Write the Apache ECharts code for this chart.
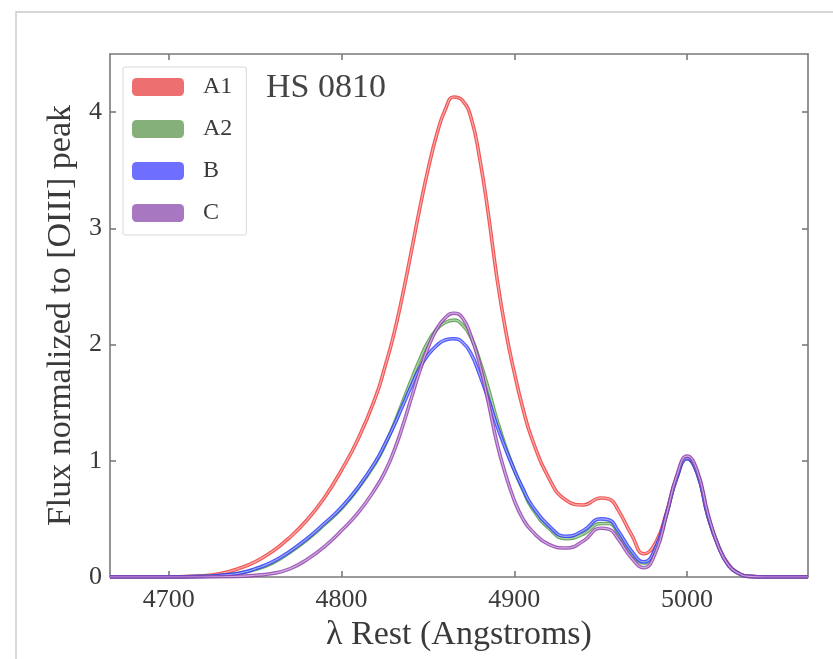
<!DOCTYPE html>
<html>
<head>
<meta charset="utf-8">
<script src="https://cdn.jsdelivr.net/npm/echarts@6/dist/echarts.min.js"></script>
<style>
  html, body { margin: 0; padding: 0; background: #fff; }
  #chart { width: 833px; height: 659px; }
</style>
</head>
<body>
<div id="chart"></div>
<script>
// Rest-frame wavelengths (Angstroms) shared by every image's profile
const wavelength = [4666, 4700, 4720, 4730, 4740, 4750, 4760, 4770, 4780, 4790, 4800, 4810,
  4820, 4825, 4830, 4835, 4840, 4845, 4850, 4855, 4860, 4865,
  4870, 4875, 4880, 4885, 4890, 4895, 4900, 4905, 4910,
  4920, 4930, 4940, 4950, 4955, 4960, 4968, 4975, 4982, 4988,
  4994, 5000, 5006, 5012, 5018, 5024, 5030, 5036, 5045, 5070];

// Flux normalised to the [OIII] peak, one array per lensed image
const fluxA1 = [0, 0, 0.01, 0.03, 0.07, 0.13, 0.22, 0.34, 0.49, 0.68, 0.92, 1.2,
  1.56, 1.8, 2.07, 2.4, 2.77, 3.15, 3.5, 3.8, 4.02, 4.13,
  4.1, 3.95, 3.6, 3.12, 2.57, 2.12, 1.76, 1.45, 1.2,
  0.85, 0.66, 0.62, 0.68, 0.67, 0.58, 0.36, 0.2, 0.3, 0.55,
  0.86, 1.02, 0.89, 0.53, 0.27, 0.11, 0.03, 0.005, 0, 0];
const fluxA2 = [0, 0, 0.005, 0.012, 0.03, 0.065, 0.12, 0.21, 0.32, 0.45, 0.59, 0.77,
  0.99, 1.13, 1.3, 1.49, 1.68, 1.86, 2.02, 2.13, 2.19, 2.21,
  2.17, 2.06, 1.86, 1.62, 1.35, 1.12, 0.92, 0.75, 0.6,
  0.42, 0.33, 0.37, 0.46, 0.46, 0.38, 0.2, 0.12, 0.25, 0.53,
  0.85, 1.02, 0.89, 0.53, 0.27, 0.1, 0.03, 0.005, 0, 0];
const fluxB = [0, 0, 0.005, 0.015, 0.03, 0.07, 0.13, 0.22, 0.33, 0.46, 0.6, 0.78,
  1.0, 1.14, 1.29, 1.46, 1.63, 1.79, 1.91, 1.99, 2.04, 2.05,
  2.02, 1.92, 1.74, 1.53, 1.3, 1.1, 0.92, 0.76, 0.62,
  0.44, 0.35, 0.4, 0.5, 0.49, 0.4, 0.22, 0.13, 0.26, 0.54,
  0.85, 1.02, 0.89, 0.53, 0.27, 0.1, 0.03, 0.005, 0, 0];
const fluxC = [0, 0, 0, 0.002, 0.005, 0.015, 0.03, 0.07, 0.15, 0.26, 0.4, 0.56,
  0.77, 0.9, 1.07, 1.28, 1.52, 1.76, 1.97, 2.13, 2.23, 2.27,
  2.23, 2.07, 1.83, 1.5, 1.15, 0.88, 0.66, 0.5, 0.4,
  0.28, 0.25, 0.31, 0.42, 0.41, 0.33, 0.16, 0.08, 0.22, 0.53,
  0.87, 1.04, 0.91, 0.55, 0.27, 0.1, 0.03, 0.005, 0, 0];

const seriesNames = ['A1', 'A2', 'B', 'C'];
const xTicks = [4700, 4800, 4900, 5000];
const yTicks = [0, 1, 2, 3, 4];

const profiles = [fluxA1, fluxA2, fluxB, fluxC];
const edgeColors = ['#ee3b3b', '#4f9a45', '#2f3cff', '#8f3fae'];
const patchColors = ['#ee6f70', '#86b07a', '#6e6eff', '#a877c2'];

const serif = 'Liberation Serif';
const frame = { color: '#7a7a7a', width: 1.6 };
const textColor = '#3a3a3a';

const series = [];
profiles.forEach((vals, k) => {
  const pts = wavelength.map((w, i) => [w, vals[i]]);
  // coloured band
  series.push({
    name: seriesNames[k],
    type: 'line',
    data: pts,
    smooth: 0.5,
    showSymbol: false,
    silent: true,
    z: 2 + k * 2,
    itemStyle: { color: patchColors[k] },
    lineStyle: { color: edgeColors[k], width: 3.6, opacity: 0.85 }
  });
  // pale core giving the band its double-edged look
  series.push({
    name: seriesNames[k] + '-core',
    type: 'line',
    data: pts,
    smooth: 0.5,
    showSymbol: false,
    silent: true,
    z: 3 + k * 2,
    lineStyle: { color: '#ffffff', width: 1.2, opacity: 0.5 }
  });
});

const plainNumber = v => String(v);

const chart = echarts.init(document.getElementById('chart'));
chart.setOption({
  animation: false,
  backgroundColor: '#ffffff',
  textStyle: { fontFamily: serif },
  grid: { left: 110, top: 54, width: 698, height: 523, containLabel: false },
  legend: {
    orient: 'vertical',
    left: 123,
    top: 67,
    padding: [8, 14, 10, 9],
    itemWidth: 52,
    itemHeight: 18,
    itemGap: 18,
    icon: 'roundRect',
    borderColor: '#d8d8d8',
    borderWidth: 1,
    borderRadius: 2,
    data: seriesNames.map((n, k) => ({ name: n, itemStyle: { color: patchColors[k] } })),
    textStyle: { fontFamily: serif, fontSize: 24, color: textColor, lineHeight: 18, padding: [0, 0, 0, 14] }
  },
  graphic: [
    {
      type: 'polyline',
      silent: true,
      shape: { points: [[16, 659], [16, 12], [833, 12]] },
      style: { fill: 'none', stroke: '#c9c9c9', lineWidth: 1.4 }
    },
    {
      type: 'text',
      left: 266, top: 71, silent: true,
      style: { text: 'HS 0810', fontFamily: serif, fontSize: 34, fill: '#444' }
    }
  ],
  xAxis: [
    {
      type: 'value', min: 4666, max: 5070,
      name: 'λ Rest (Angstroms)',
      nameLocation: 'middle', nameGap: 36,
      nameTextStyle: { fontFamily: serif, fontSize: 34, color: textColor },
      axisLine: { show: true, onZero: false, lineStyle: frame },
      axisTick: { show: true, inside: true, length: 6, customValues: xTicks, lineStyle: frame },
      axisLabel: { customValues: xTicks, formatter: plainNumber, fontFamily: serif, fontSize: 26, color: textColor, margin: 10 },
      splitLine: { show: false }
    },
    {
      type: 'value', min: 4666, max: 5070, position: 'top',
      axisLine: { show: true, onZero: false, lineStyle: frame },
      axisTick: { show: true, inside: true, length: 6, customValues: xTicks, lineStyle: frame },
      axisLabel: { show: false },
      splitLine: { show: false }
    }
  ],
  yAxis: [
    {
      type: 'value', min: 0, max: 4.5,
      name: 'Flux normalized to [OIII] peak',
      nameLocation: 'middle', nameGap: 32,
      nameTextStyle: { fontFamily: serif, fontSize: 34, color: textColor },
      axisLine: { show: true, onZero: false, lineStyle: frame },
      axisTick: { show: true, inside: true, length: 6, customValues: yTicks, lineStyle: frame },
      axisLabel: { customValues: yTicks, formatter: plainNumber, fontFamily: serif, fontSize: 26, color: textColor, margin: 8 },
      splitLine: { show: false }
    },
    {
      type: 'value', min: 0, max: 4.5, position: 'right',
      axisLine: { show: true, onZero: false, lineStyle: frame },
      axisTick: { show: true, inside: true, length: 6, customValues: yTicks, lineStyle: frame },
      axisLabel: { show: false },
      splitLine: { show: false }
    }
  ],
  series: series
});
</script>
</body>
</html>
